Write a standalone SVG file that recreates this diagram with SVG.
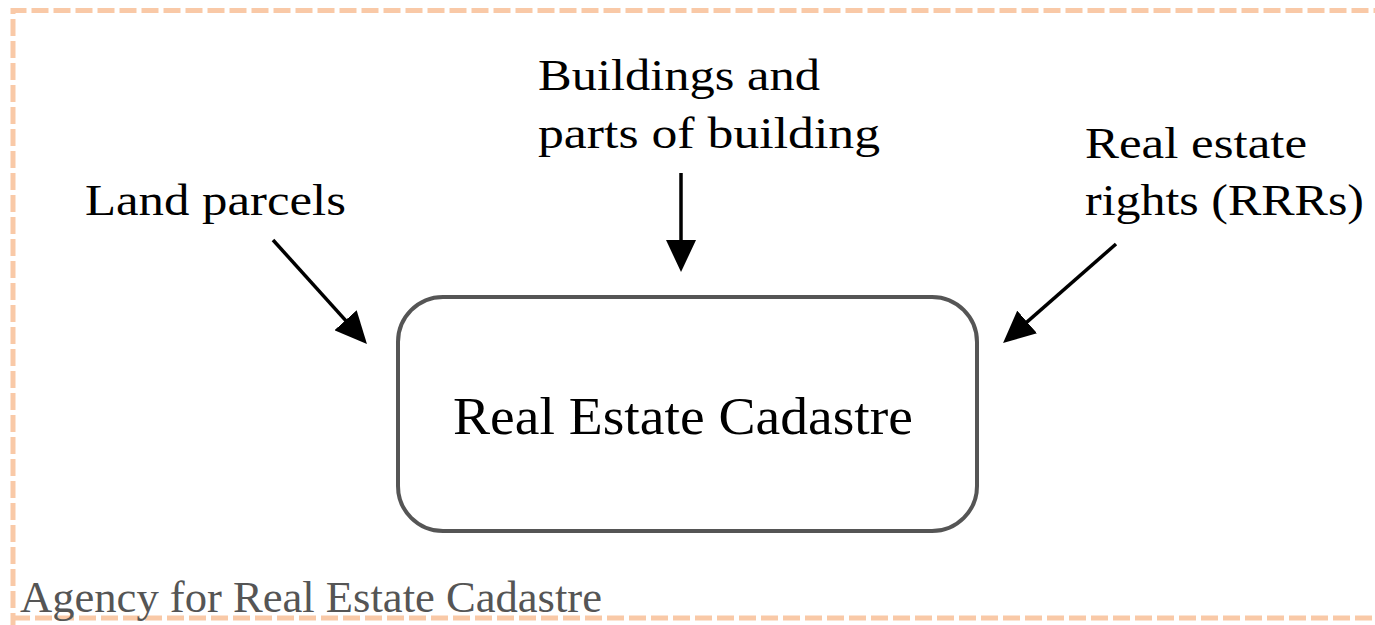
<svg xmlns="http://www.w3.org/2000/svg" width="1375" height="625" viewBox="0 0 1375 625">
  <style>
    .frame { fill: none; stroke: #f9c9a7; stroke-width: 5; stroke-dasharray: 17 5; }
    .label { font-family: "Liberation Serif", "DejaVu Serif", serif; font-size: 44px; fill: #000; }
    .title { font-family: "Liberation Serif", "DejaVu Serif", serif; font-size: 53px; fill: #000; }
    .agency { font-family: "Liberation Serif", "DejaVu Serif", serif; font-size: 44px; fill: #555; }
    .box { fill: #fff; stroke: #555; stroke-width: 4; }
    .conn { stroke: #000; stroke-width: 3.5; fill: none; marker-end: url(#head); }
  </style>
  <defs>
    <marker id="head" viewBox="0 0 32 30" refX="27" refY="15" markerWidth="32" markerHeight="30" markerUnits="userSpaceOnUse" orient="auto">
      <path d="M0,0 L32,15 L0,30 z" fill="#000"/>
    </marker>
  </defs>
  <rect width="1375" height="625" fill="#fff"/>

  <!-- agency frame -->
  <g id="agency">
    <path class="frame" d="M13,630 L13,10.5 L1380,10.5 M13,618 L1380,618"/>
    <text class="agency" x="20" y="612" textLength="582" lengthAdjust="spacingAndGlyphs">Agency for Real Estate Cadastre</text>
  </g>

  <g id="cadastre">
    <rect class="box" x="398" y="297" width="579" height="234" rx="45" ry="45"/>
    <text class="title" x="453" y="434" textLength="460" lengthAdjust="spacingAndGlyphs">Real Estate Cadastre</text>
  </g>

  <g id="land-parcels">
    <text class="label" x="85" y="215" textLength="261" lengthAdjust="spacingAndGlyphs">Land parcels</text>
  </g>

  <g id="buildings">
    <text class="label" x="538" y="90" textLength="282" lengthAdjust="spacingAndGlyphs">Buildings and</text>
    <text class="label" x="538" y="148" textLength="342" lengthAdjust="spacingAndGlyphs">parts of building</text>
  </g>

  <g id="rights">
    <text class="label" x="1085" y="158" textLength="222" lengthAdjust="spacingAndGlyphs">Real estate</text>
    <text class="label" x="1085" y="215" textLength="279" lengthAdjust="spacingAndGlyphs">rights (RRRs)</text>
  </g>

  <g id="connectors">
    <line class="conn" x1="273" y1="240" x2="363.6" y2="340.3"/>
    <line class="conn" x1="681" y1="173" x2="681" y2="267"/>
    <line class="conn" x1="1116" y1="244" x2="1006.8" y2="339.7"/>
  </g>
</svg>
